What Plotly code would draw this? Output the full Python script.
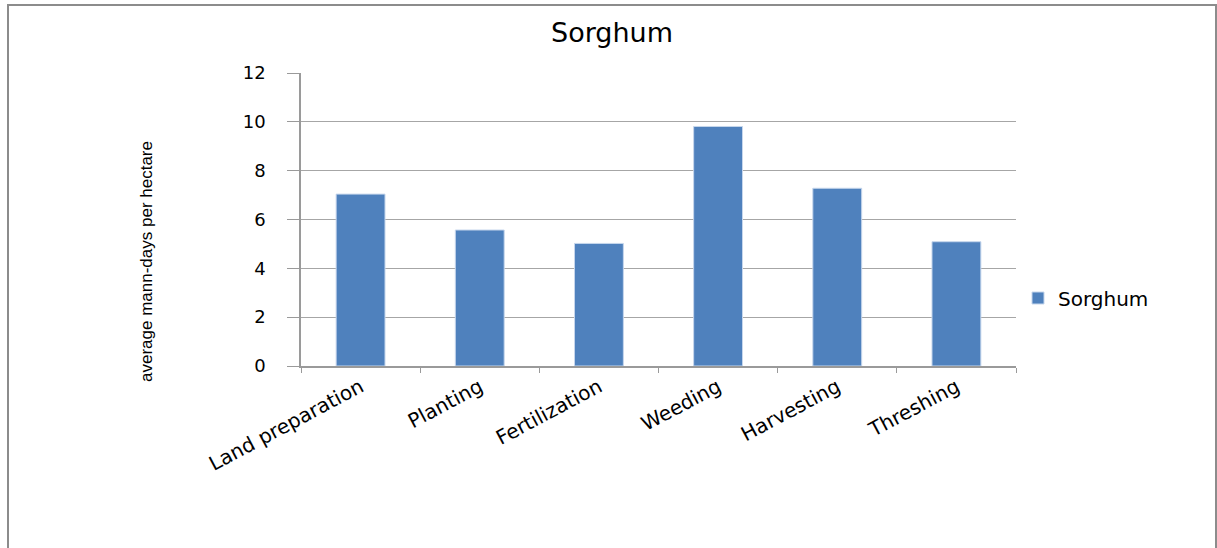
import plotly.graph_objects as go

categories = ["Land preparation", "Planting", "Fertilization", "Weeding", "Harvesting", "Threshing"]
values = [7.04, 5.57, 5.02, 9.81, 7.28, 5.09]
series_name = "Sorghum"
y_ticks = [0, 2, 4, 6, 8, 10, 12]

W, H = 1217, 548
L, R, T, B = 301, 201, 73, 182
plot_w = W - L - R
plot_h = H - T - B

def px_x(x):
    return (x - L) / plot_w

def px_y(y):
    return (H - B - y) / plot_h

fig = go.Figure()
fig.add_trace(go.Bar(
    x=categories, y=values, name=series_name,
    marker=dict(color="#4F81BD", line=dict(color="#C6D6EC", width=1)),
))

wide_font = "DejaVu Sans"
fig.update_layout(
    width=W, height=H,
    margin=dict(l=L, r=R, t=T, b=B),
    paper_bgcolor="white", plot_bgcolor="white",
    bargap=0.59,
    showlegend=True,
    title=dict(text="Sorghum", x=612 / W, xanchor="center", y=1 - 33 / H, yanchor="middle",
               font=dict(family=wide_font, size=27, color="#000000")),
    legend=dict(x=px_x(1018), y=px_y(298), yanchor="middle", xanchor="left",
                font=dict(family=wide_font, size=20, color="#000000"),
                bgcolor="rgba(0,0,0,0)"),
    font=dict(family=wide_font, color="#000000"),
)

fig.update_xaxes(
    showline=True, linecolor="#9A9A9A", linewidth=1.5,
    ticks="outside", ticklen=5, tickcolor="#9A9A9A", tickson="boundaries",
    tickangle=-28, tickfont=dict(family=wide_font, size=20, color="#000000"),
    showgrid=False,
)
fig.update_yaxes(
    range=[0, 12], tickvals=y_ticks,
    showline=True, linecolor="#9A9A9A", linewidth=1.5,
    ticks="outside", ticklen=12, tickcolor="#9A9A9A",
    showgrid=True, gridcolor="#A6A6A6", gridwidth=1,
    tickfont=dict(family=wide_font, size=18, color="#000000"),
    ticklabelstandoff=18,
    zeroline=False,
)

# y-axis title as rotated annotation
fig.add_annotation(
    text="average mann-days per hectare", textangle=-90,
    xref="paper", yref="paper", x=px_x(146), y=px_y(262),
    xanchor="center", yanchor="middle", showarrow=False,
    font=dict(family="Liberation Sans", size=17, color="#000000"),
)

# chart frame
fig.add_shape(type="rect", xref="paper", yref="paper",
              x0=px_x(8), x1=px_x(1216),
              y0=px_y(560), y1=px_y(5),
              line=dict(color="#8C8C8C", width=2), fillcolor="rgba(0,0,0,0)", layer="below")

fig.write_html("out.html")
